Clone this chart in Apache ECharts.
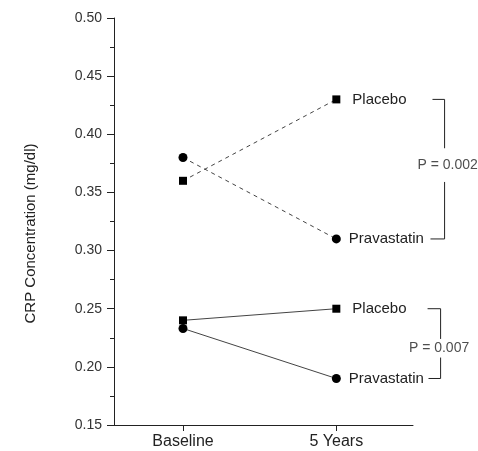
<!DOCTYPE html>
<html>
<head>
<meta charset="utf-8">
<script src="https://cdn.jsdelivr.net/npm/echarts@6/dist/echarts.min.js"></script>
<style>html,body{margin:0;padding:0;background:#fff}#c{width:478px;height:451px}</style>
</head>
<body>
<div id="c"></div>
<script>
// ---- data ----
var categories = ['Baseline', '5 Years'];
var yTicks = [0.15, 0.20, 0.25, 0.30, 0.35, 0.40, 0.45, 0.50];
var placeboUpper = [0.36, 0.43];      // dashed
var pravastatinUpper = [0.38, 0.31];  // dashed
var placeboLower = [0.24, 0.25];      // solid
var pravastatinLower = [0.233, 0.19]; // solid
var pUpper = 'P = 0.002';
var pLower = 'P = 0.007';
// bracket gaps (value units) where the p-value text sits
var upperGap = [0.388, 0.359];
var lowerGap = [0.224, 0.208];

var FONT = 'Liberation Sans, Arial, sans-serif';
var INK = '#222';

function pts(arr, name, labelDist) {
  return arr.map(function (v, i) {
    var d = { value: [i, v] };
    if (i === 1) {
      d.label = { show: true, formatter: name, position: 'right', distance: labelDist,
        color: INK, fontSize: 15, fontFamily: FONT };
    }
    return d;
  });
}

function lineSeries(arr, name, symbol, size, dashed, labelDist) {
  return {
    type: 'line', name: name, data: pts(arr, name, labelDist),
    symbol: symbol, symbolSize: size, showSymbol: true,
    itemStyle: { color: '#000' },
    lineStyle: { color: '#444', width: 1, type: dashed ? [4, 4] : 'solid' },
    emphasis: { disabled: true }, silent: true, z: 3
  };
}

// bracket x positions (value units along the category-index axis)
var bx = { upTopL: 1.627, upV: 1.706, upBotL: 1.614, loTopL: 1.595, loV: 1.680, loBotL: 1.601 };

function pText(text, x, y) {
  return { type: 'scatter', data: [[x, y]], symbolSize: 0, clip: false, silent: true,
    label: { show: true, position: 'inside', formatter: text, color: INK, fontSize: 14, fontFamily: FONT } };
}

var series = [
  lineSeries(placeboUpper, 'Placebo', 'rect', 8, true, 12),
  lineSeries(pravastatinUpper, 'Pravastatin', 'circle', 9, true, 8),
  lineSeries(placeboLower, 'Placebo', 'rect', 8, false, 12),
  lineSeries(pravastatinLower, 'Pravastatin', 'circle', 9, false, 8),
  pText(pUpper, bx.upV + 0.02, (upperGap[0] + upperGap[1]) / 2),
  pText(pLower, bx.loV - 0.01, (lowerGap[0] + lowerGap[1]) / 2)
];

var chart = echarts.init(document.getElementById('c'), null, { renderer: 'canvas' });
chart.setOption({
  animation: false,
  backgroundColor: '#fff',
  grid: { left: 114, right: 65, top: 18, bottom: 26, containLabel: false },
  xAxis: {
    type: 'value', min: -0.45, max: 1.5,
    axisLine: { show: true, onZero: false, lineStyle: { color: INK, width: 1 } },
    axisTick: { show: true, length: 6, customValues: [0, 1], lineStyle: { color: INK } },
    axisLabel: { show: true, customValues: [0, 1], margin: 9,
      formatter: function (v) { return categories[Math.round(v)]; },
      color: INK, fontSize: 16, fontFamily: FONT },
    splitLine: { show: false }
  },
  yAxis: {
    type: 'value', min: yTicks[0], max: yTicks[yTicks.length - 1], interval: 0.05,
    name: 'CRP Concentration (mg/dl)', nameLocation: 'middle', nameGap: 76, nameRotate: 90,
    nameTextStyle: { color: INK, fontSize: 15, fontFamily: FONT, padding: [0, 24, 0, 0] },
    axisLine: { show: true, onZero: false, lineStyle: { color: INK, width: 1 } },
    axisTick: { show: true, length: 7, lineStyle: { color: INK } },
    minorTick: { show: true, splitNumber: 2, length: 4, lineStyle: { color: INK } },
    axisLabel: { formatter: function (v) { return v.toFixed(2); }, margin: 12,
      color: '#333', fontSize: 14, fontFamily: FONT },
    splitLine: { show: false }
  },
  series: series
});

// brackets, positioned through the chart's own scales
function px(x, y) { return chart.convertToPixel({ gridIndex: 0 }, [x, y]); }
function bracketGraphics(top, bottom, gap, xTopL, xV, xBotL) {
  var style = { stroke: INK, lineWidth: 1, fill: null };
  return [
    { type: 'polyline', shape: { points: [px(xTopL, top), px(xV, top), px(xV, gap[0])] }, style: style, silent: true },
    { type: 'polyline', shape: { points: [px(xV, gap[1]), px(xV, bottom), px(xBotL, bottom)] }, style: style, silent: true }
  ];
}
chart.setOption({
  graphic: bracketGraphics(placeboUpper[1], pravastatinUpper[1], upperGap, bx.upTopL, bx.upV, bx.upBotL)
    .concat(bracketGraphics(placeboLower[1], pravastatinLower[1], lowerGap, bx.loTopL, bx.loV, bx.loBotL))
});
</script>
</body>
</html>
